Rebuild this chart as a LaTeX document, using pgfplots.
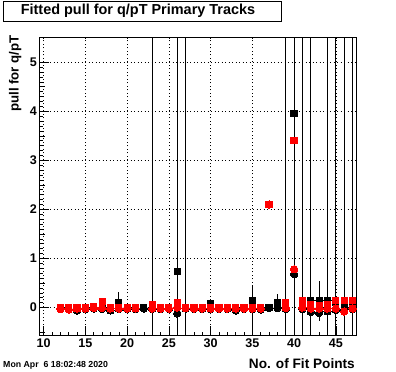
\documentclass[border=0pt]{standalone}
\usepackage{fontspec}
\setmainfont{Liberation Sans}
\usepackage{pgfplots}
\usepackage{pgfplotstable}
\pgfplotsset{compat=1.18}

% black squares
\pgfplotstableread{
x y ep em ex
12 0.00 0 0 0
13 0.00 0 0 0
14 0.00 0 0 0
15 0.00 0 0 0
16 0.01 0 0 0
17 0.02 0 0 0
18 0.00 0 0 0
19 0.11 0.20 0.20 0
20 0.00 0 0 0
21 0.00 0 0 0
22 0.00 0 0 0
23 0.02 0 0 0
24 0.00 0 0 0
25 0.00 0 0 0
26 0.73 0 0 0
27 0.00 0 0 0
28 0.00 0 0 0
29 0.00 0 0 0
30 0.07 0 0 0
31 0.00 0 0 0
32 0.00 0 0 0
33 0.00 0 0 0
34 0.00 0 0 0
35 0.14 0.30 0.52 0
36 0.00 0 0 0
37 0.00 0 0 0
38 0.11 0.16 0.16 0
39 0.02 0 0 0
40 3.95 0 0 0.5
41 0.05 0 0 0
42 0.14 0 0 0.5
43 0.14 0.41 0.41 0.5
44 0.14 0 0 0.5
45 0.10 0 0 0
46 0.05 0 0 0
47 0.05 0 0 0
}\bsq

% black circles
\pgfplotstableread{
x y ey
12 -0.03 0
13 -0.04 0
14 -0.06 0
15 -0.03 0
16 -0.02 0
17 -0.03 0
18 -0.06 0
19 -0.03 0
20 -0.03 0
21 -0.03 0
22 -0.02 0
23 -0.03 20
24 -0.03 0
25 -0.03 0
26 -0.12 20
27 -0.02 20
28 -0.03 0
29 -0.03 0
30 -0.03 0
31 -0.03 0
32 -0.03 0
33 -0.06 0
34 -0.03 0
35 -0.03 0
36 -0.04 0
37 -0.01 0
38 -0.01 0
39 -0.03 20
40 0.68 20
41 -0.03 20
42 -0.09 20
43 -0.11 0
44 -0.08 20
45 -0.05 20
46 -0.05 20
47 -0.03 20
}\bci

% red squares
\pgfplotstableread{
x y
12 0.00
13 0.00
14 -0.01
15 0.00
16 0.01
17 0.12
18 0.00
19 0.00
20 0.00
21 0.00
23 0.06
24 0.00
25 0.00
26 0.10
27 0.00
28 0.00
29 0.00
30 0.00
31 0.00
32 0.00
33 0.00
34 0.00
35 0.00
36 0.00
37 2.10
39 0.11
40 3.40
41 0.14
42 0.06
43 0.04
44 0.05
45 0.14
46 0.14
47 0.14
}\rsq

% red circles
\pgfplotstableread{
x y
12 -0.03
13 -0.04
14 -0.02
15 -0.02
16 -0.01
17 -0.01
18 -0.02
19 -0.02
20 -0.02
21 -0.02
23 -0.02
24 -0.02
25 -0.02
26 0.00
27 -0.01
28 -0.02
29 -0.02
30 -0.02
31 -0.02
32 -0.02
33 -0.02
34 -0.02
35 -0.02
36 -0.02
37 2.10
39 -0.01
40 0.78
41 0.00
42 -0.02
43 -0.02
44 -0.02
45 -0.02
46 -0.08
47 -0.02
}\rci

\definecolor{rootred}{RGB}{255,0,0}

\begin{document}
\begin{tikzpicture}[x=1bp,y=1bp]
\useasboundingbox (0,0) rectangle (396,372);
\fill[white] (0,0) rectangle (396,372);
\begin{axis}[
  at={(39.5bp,36.5bp)}, anchor=south west,
  scale only axis, width=317.2bp, height=297.8bp,
  xmin=9.5, xmax=47.5, ymin=-0.57, ymax=5.5,
  xtick={10,15,...,45}, minor x tick num=4,
  ytick={0,1,2,3,4,5}, minor y tick num=9,
  extra y ticks={-0.5,0.5,1.5,2.5,3.5,4.5},
  extra y tick labels={},
  extra y tick style={grid=none, major tick length=5bp},
  tick align=inside, tick pos=left,
  major tick length=9bp, minor tick length=3bp,
  grid=major,
  major grid style={black, line width=0.5bp, dash pattern=on 1bp off 2.5bp},
  axis line style={line width=0.8bp},
  every tick/.style={black, line width=0.6bp},
  /pgf/number format/assume math mode=true,
  tick label style={font=\bfseries\fontsize{12.6}{14}\selectfont},
  xticklabel style={inner sep=0pt, anchor=north, yshift=-3bp},
  yticklabel style={inner sep=0pt, anchor=east, xshift=-2.5bp},
  xlabel={No. of Fit Points},
  xlabel style={at={(rel axis cs:1,0)}, anchor=east, inner sep=0pt,
     yshift=-28.5bp, xshift=-1.7bp, font=\bfseries\fontsize{13.7}{15}\selectfont},
  error bars/error mark=none,
]
\addplot[only marks, mark=square*, mark size=3.1bp, black, mark options={line width=0pt},
  error bars/.cd, y dir=both, y explicit, x dir=both, x explicit,
  error bar style={line width=0.8bp, black}]
  table[x=x, y=y, y error plus=ep, y error minus=em, x error=ex]{\bsq};
\addplot[only marks, mark=*, mark size=3.7bp, black, mark options={line width=0pt},
  error bars/.cd, y dir=both, y explicit,
  error bar style={line width=0.8bp, black}]
  table[x=x, y=y, y error=ey]{\bci};
\addplot[only marks, mark=square*, mark size=3.1bp, rootred, mark options={draw=rootred, fill=rootred, line width=0pt}]
  table[x=x, y=y]{\rsq};
\addplot[only marks, mark=*, mark size=3.7bp, rootred, mark options={draw=rootred, fill=rootred, line width=0pt}]
  table[x=x, y=y]{\rci};
\end{axis}
\node[rotate=90, anchor=east, inner sep=0pt, font=\bfseries\fontsize{13.3}{15}\selectfont] at (15.3,337) {pull for q/pT};
\draw[line width=0.8bp, fill=white] (3.3,351) rectangle (281.7,371);
\node[font=\bfseries\fontsize{14.5}{16}\selectfont, inner sep=0pt] at (138,361) {Fitted pull for q/pT Primary Tracks};
\node[anchor=west, inner sep=0pt, font=\bfseries\fontsize{8.8}{10}\selectfont] at (3,7) {Mon Apr\ \ 6 18:02:48 2020};
\end{tikzpicture}
\end{document}
